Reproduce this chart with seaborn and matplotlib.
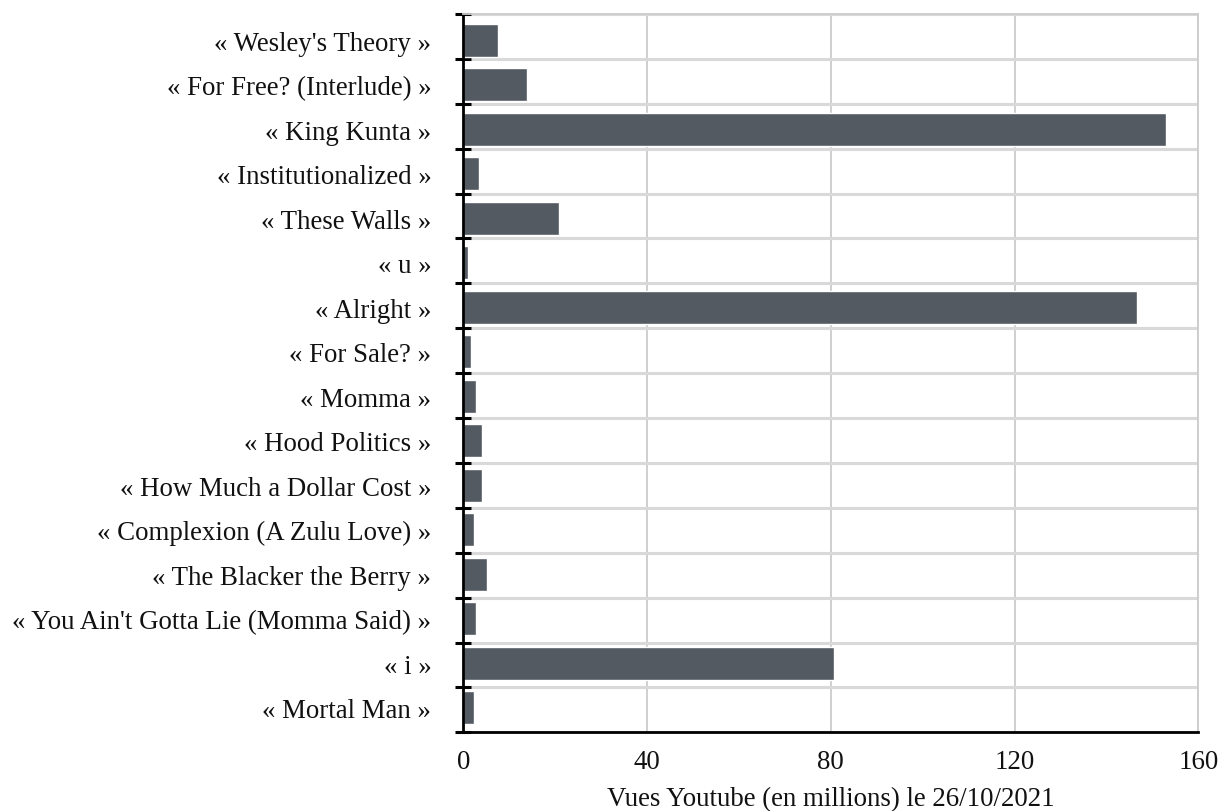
import numpy as np
import pandas as pd
import matplotlib.pyplot as plt
import seaborn as sns

titres = [
    "« Wesley's Theory »",
    "« For Free? (Interlude) »",
    "« King Kunta »",
    "« Institutionalized »",
    "« These Walls »",
    "« u »",
    "« Alright »",
    "« For Sale? »",
    "« Momma »",
    "« Hood Politics »",
    "« How Much a Dollar Cost »",
    "« Complexion (A Zulu Love) »",
    "« The Blacker the Berry »",
    "« You Ain't Gotta Lie (Momma Said) »",
    "« i »",
    "« Mortal Man »",
]
vues = [7.6, 13.9, 153.0, 3.4, 20.9, 1.1, 146.7, 1.7, 2.8, 4.1,
        4.1, 2.3, 5.2, 2.8, 80.6, 2.4]
xticks = [0, 40, 80, 120, 160]

df = pd.DataFrame({"titre": titres, "vues": vues})

sns.set_style("white")
plt.rcParams['font.family'] = ['Liberation Serif', 'DejaVu Serif']

fig = plt.figure(figsize=(12.19, 8.12), dpi=100)
ax = fig.add_axes([0.380, 0.0969, 0.603, 0.8846])

sns.barplot(data=df, y="titre", x="vues", orient="h", color="#535a62",
            saturation=1, width=0.735, ax=ax)

# limites et separations entre categories
y_top, y_bot = -0.59, 15.55
ax.set_ylim(y_bot, y_top)
ax.set_xlim(0, 160)
ax.set_xticks(xticks)
ax.set_xticklabels([str(t) for t in xticks])
ax.set_yticks(np.linspace(y_top, y_bot, len(titres) + 1), minor=True)

ax.set_axisbelow(True)
ax.grid(which='major', axis='x', color='#cccccc', lw=1.3)
ax.grid(which='minor', axis='y', color='#d9d9d9', lw=2.2)
ax.grid(which='major', axis='y', visible=False)

ax.tick_params(axis='y', which='major', length=0, pad=23, labelsize=19.4,
               labelcolor='#111111')
ax.tick_params(axis='y', which='minor', direction='inout', length=11,
               width=2.2, color='black', left=True)
ax.tick_params(axis='x', which='both', length=0, pad=12, labelsize=19.4,
               labelcolor='#111111')

for side in ['left', 'bottom']:
    ax.spines[side].set_color('black')
    ax.spines[side].set_linewidth(2)
for side in ['top', 'right']:
    ax.spines[side].set_color('#cccccc')
    ax.spines[side].set_linewidth(1.3)

ax.set_ylabel('')
ax.set_xlabel('Vues Youtube (en millions) le 26/10/2021', fontsize=19.4,
              labelpad=9, color='#111111')

fig.savefig('out.png', dpi=100)
